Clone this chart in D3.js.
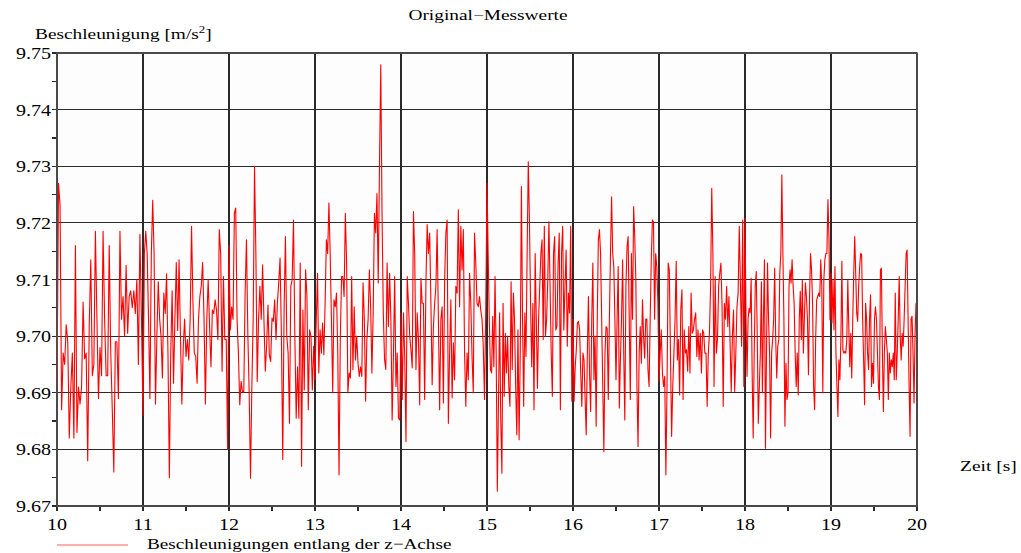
<!DOCTYPE html>
<html><head><meta charset="utf-8">
<script src="https://cdn.jsdelivr.net/npm/d3@7"></script>
<style>
html,body{margin:0;padding:0;background:#fff;}
text{font-family:"Liberation Serif","Times New Roman",serif;fill:#000;}
</style></head>
<body>
<svg id="chart" width="1021" height="553"></svg>
<script>
// ---- data ----
const chartTitle = "Original−Messwerte";
const yLabel = "Beschleunigung [m/s";
const xLabel = "Zeit [s]";
const legendLabel = "Beschleunigungen entlang der z−Achse";
const xTicks = [10,11,12,13,14,15,16,17,18,19,20];
const yTicks = [9.67,9.68,9.69,9.70,9.71,9.72,9.73,9.74,9.75];
const xMinor = [10.5,11.5,12.5,13.5,14.5,15.5,16.5,17.5,18.5,19.5];
const yMinor = [9.675,9.685,9.695,9.705,9.715,9.725,9.735,9.745];
const segStart = [10,11,12,13,14,15,16,17,18,19];

const seg10 = [9.691,9.727,9.723,9.687,9.697,9.695,9.702,9.699,9.682,9.691,9.697,9.682,9.716,9.683,9.691,9.688,9.691,9.706,9.696,9.697,9.678,9.702,9.7135,9.693,9.695,9.7185,9.703,9.689,9.698,9.693,9.7185,9.703,9.693,9.693,9.716,9.697,9.687,9.676,9.699,9.699,9.689,9.7185,9.703,9.707,9.700,9.7125,9.7005,9.707,9.708,9.705,9.708,9.704,9.710,9.695,9.718,9.703];
const seg11 = [9.686,9.7146,9.7185,9.7146,9.703,9.689,9.7146,9.724,9.7146,9.688,9.700,9.7096,9.703,9.700,9.6926,9.7076,9.704,9.711,9.697,9.675,9.697,9.708,9.6917,9.703,9.713,9.701,9.7135,9.700,9.688,9.698,9.703,9.6964,9.6994,9.6958,9.703,9.7194,9.706,9.697,9.6964,9.6917,9.703,9.707,9.7088,9.713,9.703,9.688,9.703,9.710,9.7017,9.6946,9.7046,9.704,9.7064,9.7046,9.6994,9.7188,9.7146,9.6938,9.7105,9.6994,9.6994,9.680];
const seg12 = [9.7161,9.7011,9.7052,9.703,9.7217,9.7226,9.703,9.697,9.6879,9.692,9.6902,9.6902,9.7076,9.717,9.7005,9.6902,9.6749,9.6911,9.703,9.730,9.7146,9.692,9.703,9.7088,9.703,9.7126,9.703,9.6938,9.6982,9.7055,9.6967,9.6955,9.7032,9.7026,9.7064,9.6994,9.7058,9.7094,9.7138,9.700,9.6782,9.7046,9.7176,9.700,9.697,9.6846,9.7088,9.710,9.7205,9.700,9.6855,9.6946,9.6855,9.7129,9.677,9.7046,9.6905,9.7117,9.707,9.687,9.7011,9.700,9.6905,9.6982];
const seg13 = [9.6923,9.703,9.7111,9.6935,9.7011,9.697,9.7023,9.6967,9.7058,9.717,9.7146,9.7235,9.7146,9.703,9.690,9.7064,9.7052,9.7076,9.697,9.6755,9.6994,9.7105,9.7105,9.707,9.7217,9.7129,9.690,9.6935,9.6926,9.7105,9.6941,9.7052,9.6958,9.700,9.6952,9.6929,9.6946,9.6929,9.7094,9.703,9.6885,9.6994,9.703,9.7117,9.7052,9.6935,9.7041,9.7217,9.7182,9.7252,9.7094,9.7305,9.7479,9.7217,9.7041,9.6958,9.6941,9.7129,9.7017,9.7111,9.703,9.6852,9.6964,9.7105,9.6911,9.697,9.6855,9.6852];
const seg14 = [9.7041,9.6888,9.7041,9.6964,9.6814,9.7105,9.7058,9.700,9.6976,9.6944,9.722,9.7146,9.6941,9.7041,9.6994,9.6879,9.7102,9.7058,9.7058,9.6888,9.7094,9.7197,9.7146,9.7182,9.7058,9.6914,9.7017,9.7058,9.7088,9.7188,9.703,9.687,9.703,9.7052,9.6882,9.7099,9.7182,9.7205,9.6846,9.697,9.7064,9.6891,9.6988,9.6923,9.7088,9.7076,9.7223,9.7052,9.7194,9.7117,9.7188,9.697,9.6876,9.697,9.6923,9.7111,9.7058,9.6964,9.690,9.7182,9.7129,9.7058,9.7052,9.707,9.7046,9.703,9.6982,9.6888,9.7046];
const seg15 = [9.727,9.7146,9.703,9.6941,9.6935,9.7035,9.6946,9.7105,9.697,9.6726,9.6882,9.7041,9.6852,9.6758,9.7058,9.6894,9.7005,9.6935,9.700,9.6911,9.6876,9.7096,9.6941,9.7076,9.703,9.6911,9.6826,9.7011,9.6817,9.697,9.7264,9.703,9.6876,9.7041,9.6964,9.7146,9.7308,9.7205,9.7058,9.6946,9.7058,9.687,9.7146,9.703,9.6908,9.703,9.7088,9.7146,9.717,9.6994,9.7194,9.700,9.703,9.7099,9.7202,9.7088,9.697,9.6894,9.7146,9.7176,9.7011,9.7017,9.7129,9.7182,9.687,9.7146,9.7194,9.7011,9.7088,9.7152,9.6982,9.7076,9.7041,9.7194,9.6885];
const seg16 = [9.703,9.6885,9.6946,9.6976,9.7023,9.7026,9.7011,9.6935,9.6876,9.697,9.6958,9.6888,9.6826,9.697,9.707,9.6935,9.6867,9.703,9.7129,9.6923,9.700,9.6841,9.703,9.717,9.7188,9.7146,9.703,9.6911,9.6796,9.697,9.7017,9.7014,9.6888,9.703,9.7146,9.7246,9.7146,9.7123,9.703,9.6923,9.703,9.7123,9.6873,9.6958,9.703,9.7135,9.697,9.6852,9.7088,9.7158,9.7176,9.703,9.6888,9.7146,9.703,9.7229,9.7176,9.7099,9.6911,9.6805,9.697,9.7017,9.6952,9.7064,9.700,9.6961,9.703,9.703,9.6941,9.6911,9.703,9.7135,9.7205,9.7202,9.703,9.7146,9.7123,9.7058];
const seg17 = [9.692,9.697,9.7011,9.6935,9.6911,9.6929,9.6755,9.6911,9.7129,9.7117,9.697,9.6823,9.6911,9.697,9.703,9.7132,9.6958,9.6994,9.6896,9.7046,9.7082,9.6888,9.7011,9.697,9.6976,9.6938,9.7017,9.6935,9.7076,9.7005,9.7011,9.703,9.7041,9.6964,9.7011,9.6958,9.7005,9.6935,9.7011,9.7005,9.697,9.697,9.6876,9.697,9.7005,9.7088,9.7261,9.7146,9.6911,9.7105,9.697,9.6994,9.7088,9.7111,9.7129,9.7052,9.6876,9.7058,9.703,9.7088,9.7017,9.707,9.6988,9.6902,9.700,9.7046,9.6902,9.697,9.7052,9.7076,9.7194,9.7094,9.6982,9.7205,9.6911];
const seg18 = [9.7208,9.703,9.6929,9.703,9.7049,9.7041,9.7102,9.6935,9.682,9.697,9.7088,9.7114,9.6994,9.6846,9.6911,9.697,9.7096,9.690,9.703,9.7135,9.6802,9.697,9.7129,9.703,9.697,9.682,9.697,9.6994,9.703,9.712,9.6994,9.6926,9.6982,9.6994,9.7111,9.7146,9.7285,9.7146,9.703,9.6841,9.6952,9.6888,9.690,9.7088,9.7117,9.7094,9.7135,9.7088,9.7058,9.697,9.6911,9.697,9.6896,9.703,9.7079,9.6994,9.7099,9.697,9.703,9.7094,9.707,9.703,9.6932,9.7064,9.7146,9.7117,9.7058,9.6911,9.687,9.6994,9.7064,9.707,9.7076,9.707,9.7135,9.7088,9.690,9.7099,9.7135,9.7146,9.7146,9.7241,9.7176,9.7029];
const seg19 = [9.7111,9.7023,9.7099,9.7011,9.7123,9.697,9.6911,9.6858,9.6958,9.6923,9.6994,9.7132,9.6976,9.697,9.6973,9.697,9.6994,9.7099,9.7017,9.6946,9.7005,9.6926,9.703,9.7111,9.7176,9.7111,9.7041,9.7026,9.7088,9.7123,9.7146,9.7144,9.703,9.6958,9.6879,9.7058,9.703,9.697,9.6941,9.703,9.7073,9.6911,9.6952,9.6917,9.703,9.7052,9.703,9.697,9.6911,9.6888,9.7117,9.712,9.697,9.6867,9.697,9.7017,9.6994,9.697,9.6888,9.697,9.6935,9.6958,9.6946,9.697,9.6923,9.7076,9.6923,9.697,9.703,9.7105,9.700,9.6958,9.7005,9.6982,9.703,9.7088,9.7146,9.7152,9.703,9.6911,9.6823,9.703,9.7035,9.697,9.6882,9.700,9.7058];
const segments = [seg10,seg11,seg12,seg13,seg14,seg15,seg16,seg17,seg18,seg19];

// build (time, value) points: each segment's samples spread over its second
const points = [];
segments.forEach((seg, k) => {
  seg.forEach((v, j) => points.push({t: segStart[k] + j / seg.length, v: v}));
});

// ---- layout ----
const svg = d3.select("#chart");
const X0 = 57, X1 = 917, Y0 = 53, Y1 = 506;
const x = d3.scaleLinear().domain([10, 20]).range([X0, X1]);
const y = d3.scaleLinear().domain([9.67, 9.75]).range([Y1, Y0]);
const gridColor = "#2a2a2a";

function stext(g, str, px, py, anchor, size, sx) {
  return g.append("text")
    .attr("transform", `translate(${px},${py}) scale(${sx || 1.18},1)`)
    .attr("text-anchor", anchor || "start")
    .style("font-size", (size || 16) + "px")
    .text(str);
}

// plot background
svg.append("rect").attr("x", X0).attr("y", Y0).attr("width", X1 - X0).attr("height", Y1 - Y0)
  .attr("fill", "#fdfdfd");

// grid lines
const grid = svg.append("g").attr("stroke", gridColor).attr("stroke-width", 1.2).attr("shape-rendering", "crispEdges");
grid.selectAll("line.h").data(yTicks).join("line")
  .attr("x1", X0 - 5).attr("x2", X1).attr("y1", d => y(d)).attr("y2", d => y(d));
grid.selectAll("line.v").data(xTicks).join("line")
  .attr("x1", d => x(d)).attr("x2", d => x(d)).attr("y1", Y0).attr("y2", Y1 + 5);
// minor ticks
grid.selectAll("line.mx").data(xMinor).join("line")
  .attr("x1", d => x(d)).attr("x2", d => x(d)).attr("y1", Y1).attr("y2", Y1 + 5);
grid.selectAll("line.my").data(yMinor).join("line")
  .attr("x1", X0 - 5).attr("x2", X0).attr("y1", d => y(d)).attr("y2", d => y(d));

// data line
const line = d3.line().x(d => x(d.t)).y(d => y(d.v));
svg.append("path").datum(points)
  .attr("fill", "none").attr("stroke", "#ff0000").attr("stroke-width", 1.1)
  .attr("stroke-linejoin", "round")
  .attr("d", line);

// frame
svg.append("rect").attr("x", X0).attr("y", Y0).attr("width", X1 - X0).attr("height", Y1 - Y0)
  .attr("fill", "none").attr("stroke", "#555").attr("stroke-width", 1.5);

// tick labels
const labels = svg.append("g");
yTicks.forEach(d => stext(labels, d3.format(".2f")(d), X0 - 6, y(d) + 6, "end", 17));
xTicks.forEach(d => stext(labels, d3.format("d")(d), x(d), Y1 + 24, "middle", 17));

// titles
stext(svg, chartTitle, 488, 20, "middle", 15, 1.29);
const yl = stext(svg, yLabel, 35, 39, "start", 15, 1.29);
yl.append("tspan").attr("dy", -6).style("font-size", "10px").text("2");
yl.append("tspan").attr("dy", 6).text("]");
stext(svg, xLabel, 960, 471, "start", 15, 1.3);

// legend
svg.append("line").attr("x1", 57).attr("x2", 128).attr("y1", 545).attr("y2", 545)
  .attr("stroke", "#ff5a5a").attr("stroke-width", 1);
stext(svg, legendLabel, 147, 549, "start", 15, 1.28);
</script>
</body></html>
